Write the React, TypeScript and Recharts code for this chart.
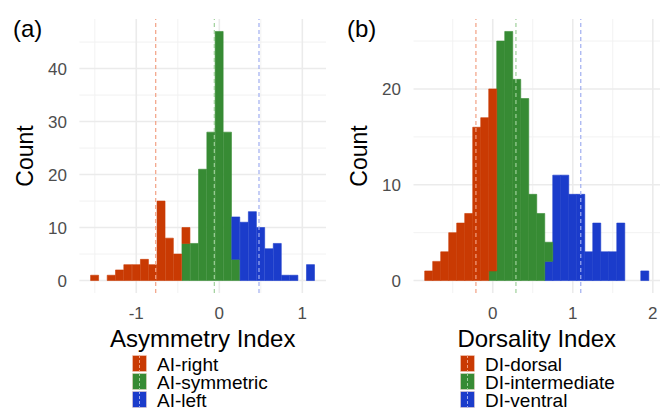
import { BarChart, Bar, XAxis, YAxis, CartesianGrid, ReferenceLine } from 'recharts';

// Asymmetry index histogram (bin centres, width 0.1)
const aiBins = [-1.5, -1.4, -1.3, -1.2, -1.1, -1.0, -0.9, -0.8, -0.7, -0.6, -0.5, -0.4, -0.3, -0.2, -0.1, 0, 0.1, 0.2, 0.3, 0.4, 0.5, 0.6, 0.7, 0.8, 0.9, 1.0, 1.1];
const aiRight = [1, 0, 1, 2, 3, 3, 4, 3, 15, 8, 5, 3, 0, 0, 0, 0, 0, 0, 0, 0, 0, 0, 0, 0, 0, 0, 0];
const aiSym = [0, 0, 0, 0, 0, 0, 0, 0, 0, 0, 0, 7, 7, 21, 28, 47, 28, 4, 0, 0, 0, 0, 0, 0, 0, 0, 0];
const aiLeft = [0, 0, 0, 0, 0, 0, 0, 0, 0, 0, 0, 0, 0, 0, 0, 0, 0, 8, 11, 13, 10, 6, 7, 1, 1, 0, 3];
const aiMeans = { right: -0.766, sym: -0.06, left: 0.478 };

// Dorsality index histogram
const diBins = [-0.8, -0.7, -0.6, -0.5, -0.4, -0.3, -0.2, -0.1, 0, 0.1, 0.2, 0.3, 0.4, 0.5, 0.6, 0.7, 0.8, 0.9, 1.0, 1.1, 1.2, 1.3, 1.4, 1.5, 1.6, 1.7, 1.8, 1.9];
const diDorsal = [1, 2, 3, 5, 6, 7, 16, 17, 19, 0, 0, 0, 0, 0, 0, 0, 0, 0, 0, 0, 0, 0, 0, 0, 0, 0, 0, 0];
const diInter = [0, 0, 0, 0, 0, 0, 0, 0, 1, 25, 26, 21, 19, 9, 7, 2, 0, 0, 0, 0, 0, 0, 0, 0, 0, 0, 0, 0];
const diVentral = [0, 0, 0, 0, 0, 0, 0, 0, 0, 0, 0, 0, 0, 0, 0, 2, 11, 11, 9, 9, 3, 6, 3, 3, 6, 0, 0, 1];
const diMeans = { dorsal: -0.21, inter: 0.29, ventral: 1.1 };

const aiLabels = ['AI-right', 'AI-symmetric', 'AI-left'];
const diLabels = ['DI-dorsal', 'DI-intermediate', 'DI-ventral'];

const RED = '#C93A03';
const GREEN = '#378B34';
const BLUE = '#1B3CCB';
const RED_L = '#F2A184';
const GREEN_L = '#9FD09B';
const BLUE_L = '#A0AEF0';

const FONT = '"Liberation Sans", Arial, sans-serif';
const tickStyle = { fontSize: 17, fill: '#4D4D4D' };

const aiData = aiBins.map((x, i) => ({ x, right: aiRight[i], sym: aiSym[i], left: aiLeft[i] }));
const diData = diBins.map((x, i) => ({ x, dorsal: diDorsal[i], inter: diInter[i], ventral: diVentral[i] }));

function LegendBox({ labels, left }: { labels: string[]; left: number }) {
  const cols = [[RED, RED_L], [GREEN, GREEN_L], [BLUE, BLUE_L]];
  return (
    <div style={{ position: 'absolute', left, top: 355 }}>
      {labels.map((l, i) => (
        <div key={l} style={{ display: 'flex', alignItems: 'flex-start', height: 18 }}>
          <svg width={15} height={17} style={{ display: 'block' }}>
            <rect x={0.5} y={0.5} width={14} height={16} fill={cols[i][0]} stroke="#F4D6C8" strokeOpacity={0.5} />
            <line x1={7.5} x2={7.5} y1={0} y2={17} stroke={cols[i][1]} strokeDasharray="3 2" strokeWidth={1} />
          </svg>
          <span style={{ marginLeft: 10, fontSize: 19, lineHeight: '18px', marginTop: 1, whiteSpace: 'nowrap' }}>{l}</span>
        </div>
      ))}
    </div>
  );
}

export default function App() {
  return (
    <div style={{ position: 'relative', width: 666, height: 410, fontFamily: FONT, background: '#fff', color: '#000' }}>
      <style>{'body{margin:0}'}</style>

      <div style={{ position: 'absolute', left: 0, top: 0 }}>
        <BarChart width={333} height={410} data={aiData} margin={{ top: 19, right: 7, left: 19, bottom: 87 }} barCategoryGap={0} barGap={0}>
          <CartesianGrid stroke="#F0F0F0" strokeWidth={0.9} horizontalValues={[5, 15, 25, 35, 45]} verticalValues={[-1.5, -0.5, 0.5]} />
          <CartesianGrid stroke="#EBEBEB" strokeWidth={1.6} horizontalValues={[0, 10, 20, 30, 40]} verticalValues={[-1, 0, 1]} />
          <XAxis dataKey="x" type="number" domain={[-1.685, 1.285]} allowDataOverflow ticks={[-1, 0, 1]} axisLine={false} tickLine={false} tickMargin={7.5} height={30} tick={tickStyle}
            label={{ value: 'Asymmetry Index', position: 'bottom', offset: 7, style: { fontSize: 24, fill: '#000' } }} />
          <YAxis type="number" domain={[-2.35, 49.35]} allowDataOverflow ticks={[0, 10, 20, 30, 40]} axisLine={false} tickLine={false} tickMargin={6.4} width={60.4} tick={tickStyle}
            label={{ value: 'Count', angle: -90, position: 'insideLeft', offset: 6, style: { textAnchor: 'middle', fontSize: 23, fill: '#000' } }} />
          <Bar dataKey="sym" stackId="a" fill={GREEN} stroke={GREEN} strokeWidth={0.6} isAnimationActive={false} />
          <Bar dataKey="right" stackId="a" fill={RED} stroke={RED} strokeWidth={0.6} isAnimationActive={false} />
          <Bar dataKey="left" stackId="a" fill={BLUE} stroke={BLUE} strokeWidth={0.6} isAnimationActive={false} />
          <ReferenceLine x={aiMeans.right} stroke={RED_L} strokeDasharray="4 3" strokeWidth={1.2} />
          <ReferenceLine x={aiMeans.sym} stroke={GREEN_L} strokeDasharray="4 3" strokeWidth={1.2} />
          <ReferenceLine x={aiMeans.left} stroke={BLUE_L} strokeDasharray="4 3" strokeWidth={1.2} />
        </BarChart>
      </div>

      <div style={{ position: 'absolute', left: 333, top: 0 }}>
        <BarChart width={333} height={410} data={diData} margin={{ top: 19, right: 6, left: 20, bottom: 87 }} barCategoryGap={0} barGap={0}>
          <CartesianGrid stroke="#F0F0F0" strokeWidth={0.9} horizontalValues={[5, 15, 25]} verticalValues={[-0.5, 0.5, 1.5]} />
          <CartesianGrid stroke="#EBEBEB" strokeWidth={1.6} horizontalValues={[0, 10, 20]} verticalValues={[0, 1, 2]} />
          <XAxis dataKey="x" type="number" domain={[-0.99, 2.09]} allowDataOverflow ticks={[0, 1, 2]} axisLine={false} tickLine={false} tickMargin={7.5} height={30} tick={tickStyle}
            label={{ value: 'Dorsality Index', position: 'bottom', offset: 7, style: { fontSize: 24, fill: '#000' } }} />
          <YAxis type="number" domain={[-1.3, 27.3]} allowDataOverflow ticks={[0, 10, 20]} axisLine={false} tickLine={false} tickMargin={6.5} width={60.5} tick={tickStyle}
            label={{ value: 'Count', angle: -90, position: 'insideLeft', offset: 6, style: { textAnchor: 'middle', fontSize: 23, fill: '#000' } }} />
          <Bar dataKey="ventral" stackId="b" fill={BLUE} stroke={BLUE} strokeWidth={0.6} isAnimationActive={false} />
          <Bar dataKey="inter" stackId="b" fill={GREEN} stroke={GREEN} strokeWidth={0.6} isAnimationActive={false} />
          <Bar dataKey="dorsal" stackId="b" fill={RED} stroke={RED} strokeWidth={0.6} isAnimationActive={false} />
          <ReferenceLine x={diMeans.dorsal} stroke={RED_L} strokeDasharray="4 3" strokeWidth={1.2} />
          <ReferenceLine x={diMeans.inter} stroke={GREEN_L} strokeDasharray="4 3" strokeWidth={1.2} />
          <ReferenceLine x={diMeans.ventral} stroke={BLUE_L} strokeDasharray="4 3" strokeWidth={1.2} />
        </BarChart>
      </div>

      <div style={{ position: 'absolute', left: 13, top: 17, fontSize: 24, lineHeight: '24px' }}>(a)</div>
      <div style={{ position: 'absolute', left: 347, top: 17, fontSize: 24, lineHeight: '24px' }}>(b)</div>

      <LegendBox labels={aiLabels} left={132} />
      <LegendBox labels={diLabels} left={460} />
    </div>
  );
}
